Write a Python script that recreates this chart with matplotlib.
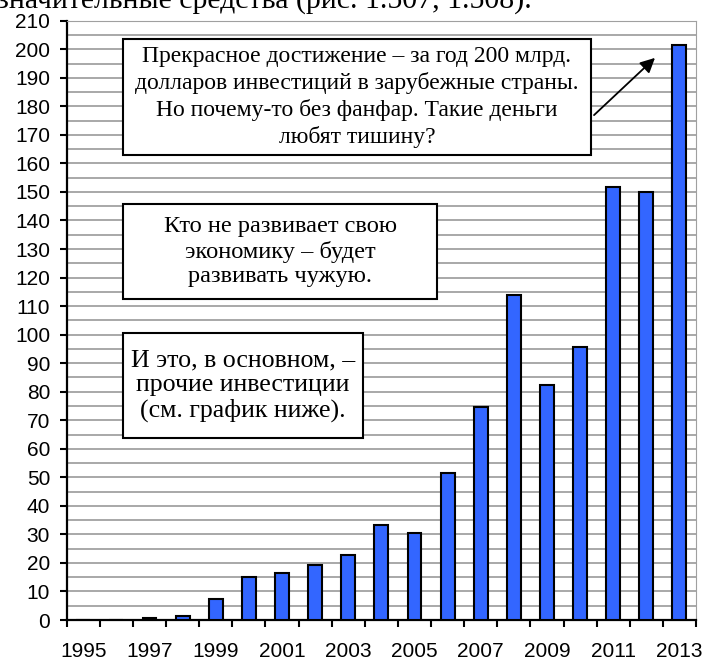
import matplotlib
matplotlib.use("Agg")
import matplotlib.pyplot as plt
from matplotlib.patches import Rectangle
import numpy as np

# Data (bln USD)
years = list(range(1995, 2014))
values = [0, 0, 0.6, 1.3, 7.5, 15.1, 16.6, 19.3, 22.8, 33.3, 30.4, 51.4,
          74.7, 114.0, 82.4, 95.7, 151.8, 149.8, 201.4]
year_labels = [str(y) if y % 2 == 1 else "" for y in years]

header = "значительные средства (рис. 1.507, 1.508)."
note_top = ("Прекрасное достижение – за год 200 млрд.\n"
            "долларов инвестиций в зарубежные страны.\n"
            "Но почему-то без фанфар. Такие деньги\n"
            "любят тишину?")
note_mid = "Кто не развивает свою\nэкономику – будет\nразвивать чужую."
note_low = "И это, в основном, –\nпрочие инвестиции\n(см. график ниже)."

W, H = 704, 660
fig = plt.figure(figsize=(W / 100, H / 100), dpi=100)


def px(x, y):
    # pixel coords (top-left origin) -> figure fraction
    return x / W, 1 - y / H


left, top = px(66.7, 20.7)
right, bottom = px(696, 620)
ax = fig.add_axes([left, bottom, right - left, top - bottom])

x = np.arange(len(years))
ax.bar(x, values, width=0.42, color="#3366ff", edgecolor="black", linewidth=1.5, zorder=3)

ax.set_xlim(-0.5, len(years) - 0.5)
ax.set_ylim(0, 210)
ax.set_yticks(np.arange(0, 211, 10))
ax.set_yticks(np.arange(0, 211, 5), minor=True)
ax.grid(axis="y", which="both", color="#a8a8a8", linewidth=1.4, zorder=0)

ax.set_xticks(x)
ax.set_xticklabels(year_labels, fontsize=15, family="Liberation Sans")
ax.set_xticks(np.arange(-0.5, len(years)), minor=True)
ax.tick_params(axis="x", which="major", length=0, pad=15.5)
ax.tick_params(axis="x", which="minor", length=5, width=1.5, direction="out")
ax.tick_params(axis="y", which="major", length=5, width=1.5, pad=7, labelsize=15)
ax.tick_params(axis="y", which="minor", length=0)
for lbl in ax.get_yticklabels():
    lbl.set_family("Liberation Sans")

ax.spines["left"].set_linewidth(1.6)
ax.spines["bottom"].set_linewidth(1.6)
ax.spines["top"].set_color("#a0a0a0")
ax.spines["right"].set_color("#a0a0a0")

# header line cut off at the top of the picture, as in the source scan
hx, hy = px(-3, 8)
fig.text(hx, hy, header, fontsize=21.5, family="Liberation Serif", va="baseline", ha="left")


def note(x0, y0, x1, y1, text, size, spacing):
    fx0, fy1 = px(x0, y1)
    fx1, fy0 = px(x1, y0)
    fig.patches.append(Rectangle((fx0, fy1), fx1 - fx0, fy0 - fy1, transform=fig.transFigure,
                                 facecolor="white", edgecolor="black", linewidth=1.5, zorder=5))
    cx, cy = px((x0 + x1) / 2, (y0 + y1) / 2)
    fig.text(cx, cy, text, fontsize=size, family="Liberation Serif", ha="center", va="center",
             multialignment="center", linespacing=spacing, zorder=6)


note(123, 39, 591, 155, note_top, 17, 1.28)
note(123, 204, 437, 299, note_mid, 17.6, 1.19)
note(123, 333, 363, 438, note_low, 18.6, 1.16)

ax.annotate("", xy=px(657, 56), xytext=px(592, 117), xycoords="figure fraction",
            textcoords="figure fraction",
            arrowprops=dict(arrowstyle="-|>", color="black", lw=1.3, mutation_scale=22))

fig.savefig("out.png", dpi=100)
